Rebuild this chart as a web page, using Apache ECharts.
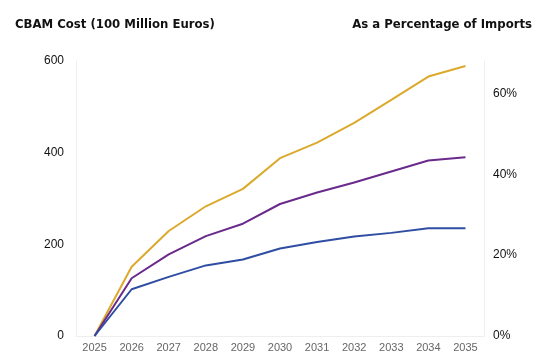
<!DOCTYPE html>
<html><head><meta charset="utf-8">
<script src="https://cdn.jsdelivr.net/npm/echarts@6/dist/echarts.min.js"></script>
<style>html,body{margin:0;padding:0;background:#fff}#c{width:549px;height:363px}</style>
</head><body><div id="c"></div>
<script>
const years = ['2025','2026','2027','2028','2029','2030','2031','2032','2033','2034','2035'];
const goldSeries = [0, 151, 229, 283, 321, 388, 422, 465, 515, 566, 589];
const purpleSeries = [0, 126, 178, 218, 245, 288, 313, 335, 359, 383, 390];
const blueSeries = [0, 102, 129, 154, 167, 191, 205, 217, 225, 235, 235];
const leftTicks = [0, 200, 400, 600];
const rightTicks = [0, 20, 40, 60];

const chart = echarts.init(document.getElementById('c'), null, {renderer:'canvas'});
const mkLine = (data, color) => ({type:'line', data, yAxisIndex:0, symbol:'none', smooth:false,
  lineStyle:{color, width:2}, itemStyle:{color}});
chart.setOption({
  animation:false,
  backgroundColor:'#fff',
  grid:{left:76, right:65, top:61, bottom:27},
  title:[
    {text:'CBAM Cost (100 Million Euros)', left:15, top:18, padding:0, textStyle:{fontFamily:'DejaVu Sans Condensed', fontWeight:'bold', fontSize:13, color:'#111'}},
    {text:'As a Percentage of Imports', right:17, top:18, padding:0, textStyle:{fontFamily:'DejaVu Sans Condensed', fontWeight:'bold', fontSize:13, color:'#111'}}
  ],
  xAxis:{type:'category', data:years, boundaryGap:true,
    axisLine:{lineStyle:{color:'#eeeeee'}}, axisTick:{show:false},
    axisLabel:{color:'#666', fontSize:11, fontFamily:'Liberation Sans', margin:6}},
  yAxis:[
    {type:'value', min:0, max:600, interval:200, position:'left',
      axisLine:{show:true, lineStyle:{color:'#eeeeee'}}, axisTick:{show:false}, splitLine:{show:false},
      axisLabel:{color:'#111', fontSize:12, fontFamily:'Liberation Sans', margin:12,
        formatter:v => leftTicks.includes(v) ? String(v) : ''}},
    {type:'value', min:0, max:68, interval:20, position:'right',
      axisLine:{show:true, lineStyle:{color:'#eeeeee'}}, axisTick:{show:false}, splitLine:{show:false},
      axisLabel:{color:'#111', fontSize:12, fontFamily:'Liberation Sans', margin:9, showMaxLabel:false,
        formatter:v => rightTicks.includes(v) ? v + '%' : ''}}
  ],
  series:[
    mkLine(goldSeries, '#DBAA2C'),
    mkLine(purpleSeries, '#6A2A8B'),
    mkLine(blueSeries, '#2F4DA3')
  ]
});
</script></body></html>
